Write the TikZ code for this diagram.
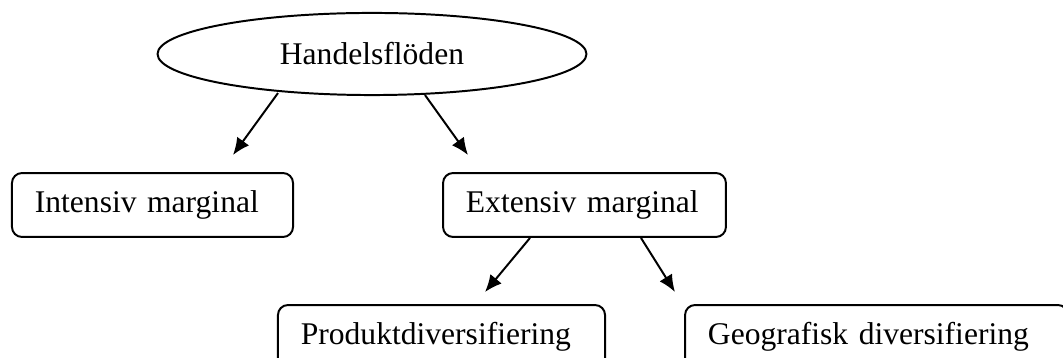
\documentclass[12pt,tikz,border=0pt]{standalone}
\usepackage{fontspec}
\setmainfont{Liberation Serif}
\usetikzlibrary{shapes.geometric, arrows.meta}

\begin{document}
\begin{tikzpicture}[x=0.38pt, y=-0.38pt, line width=0.75pt, >={Latex[length=6.5pt, width=5.6pt]}]
  \tikzstyle{block} = [draw, rectangle, rounded corners=3.8pt, minimum height=24.3pt, inner xsep=8.7pt, align=left]
  \tikzstyle{topnode} = [draw, ellipse, minimum width=163pt, minimum height=31.2pt, inner sep=0pt]
  \useasboundingbox (0,0) rectangle (1063,358);
  \node [topnode] (flows) at (372,54) {Handelsflöden};
  \node [block, text width=89.4pt] (intensive) at (152.5,205) {Intensiv marginal};
  \node [block, text width=90.1pt] (extensive) at (584.5,205) {Extensiv marginal};
  \node [block, text width=106.9pt] (product) at (441.5,337) {Produktdiversifiering};
  \node [block, text width=128.1pt] (geo) at (876.5,337) {Geografisk diversifiering};

  \draw [->] ([shift={(-94,-3)}]flows.south) -- ([shift={(80.5,-17)}]intensive.north);
  \draw [->] ([shift={(53,-1)}]flows.south) -- ([shift={(-116.5,-17)}]extensive.north);
  \draw [->] ([shift={(-54.5,0)}]extensive.south) -- ([shift={(43.5,-12)}]product.north);
  \draw [->] ([shift={(56.5,0)}]extensive.south) -- ([shift={(-201.5,-12)}]geo.north);
\end{tikzpicture}
\end{document}
